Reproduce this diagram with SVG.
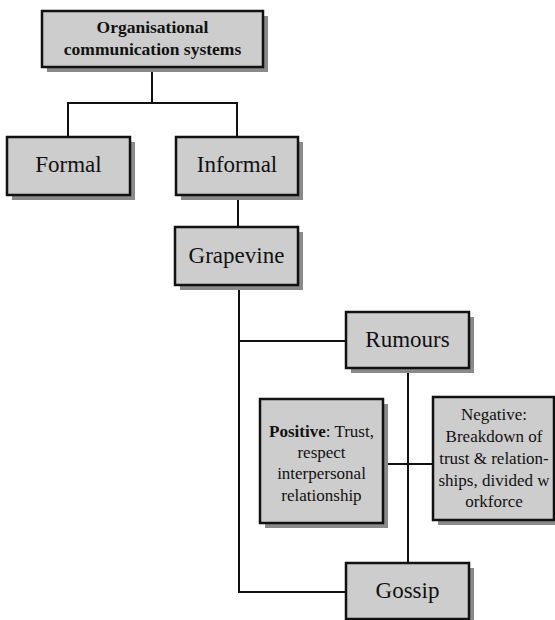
<svg xmlns="http://www.w3.org/2000/svg" width="555" height="620" viewBox="0 0 555 620">
<style>
.sh{fill:#8a8a8a}
.bx{fill:#cdcdcd;stroke:#111;stroke-width:2.5}
.ln{fill:none;stroke:#111;stroke-width:2}
text{font-family:"Liberation Serif","Times New Roman",serif;fill:#111;text-anchor:middle}
.big{font-size:23px}
.hd{font-size:17.5px;font-weight:bold}
.sm{font-size:17px}
</style>
<rect width="555" height="620" fill="#fff"/>
<g id="connectors">
<path class="ln" d="M152,67V103M68,137V103H237V137"/>
<path class="ln" d="M238,195V227"/>
<path class="ln" d="M239,285V592H346M239,341H346"/>
<path class="ln" d="M408,368V563"/>
<path class="ln" d="M383,464H433"/>
</g>
<g id="node-top">
<rect class="sh" x="47" y="16" width="221" height="56"/>
<rect class="bx" x="42" y="11" width="221" height="56"/>
<text class="hd" x="152.5" y="33">Organisational</text>
<text class="hd" x="152.5" y="55">communication systems</text>
</g>
<g id="node-formal">
<rect class="sh" x="12" y="142" width="123" height="58"/>
<rect class="bx" x="7" y="137" width="123" height="58"/>
<text class="big" x="68.5" y="172">Formal</text>
</g>
<g id="node-informal">
<rect class="sh" x="181" y="142" width="122" height="58"/>
<rect class="bx" x="176" y="137" width="122" height="58"/>
<text class="big" x="237" y="172">Informal</text>
</g>
<g id="node-grapevine">
<rect class="sh" x="180" y="232" width="123" height="58"/>
<rect class="bx" x="175" y="227" width="123" height="58"/>
<text class="big" x="236.5" y="263">Grapevine</text>
</g>
<g id="node-rumours">
<rect class="sh" x="351" y="317" width="123" height="56"/>
<rect class="bx" x="346" y="312" width="123" height="56"/>
<text class="big" x="407.5" y="347">Rumours</text>
</g>
<g id="node-positive">
<rect class="sh" x="265" y="404" width="123" height="124"/>
<rect class="bx" x="260" y="399" width="123" height="124"/>
<text class="sm" x="321.5" y="437"><tspan font-weight="bold">Positive</tspan>: Trust,</text>
<text class="sm" x="321.5" y="458">respect</text>
<text class="sm" x="321.5" y="479">interpersonal</text>
<text class="sm" x="321.5" y="501">relationship</text>
</g>
<g id="node-negative">
<rect class="sh" x="438" y="402" width="121" height="123"/>
<rect class="bx" x="433" y="397" width="121" height="123"/>
<text class="sm" x="494" y="420">Negative:</text>
<text class="sm" x="494" y="442">Breakdown of</text>
<text class="sm" x="494" y="464">trust &amp; relation-</text>
<text class="sm" x="494" y="486">ships, divided w</text>
<text class="sm" x="494" y="507">orkforce</text>
</g>
<g id="node-gossip">
<rect class="sh" x="351" y="568" width="123" height="56"/>
<rect class="bx" x="346" y="563" width="123" height="56"/>
<text class="big" x="407.5" y="598">Gossip</text>
</g>
</svg>
